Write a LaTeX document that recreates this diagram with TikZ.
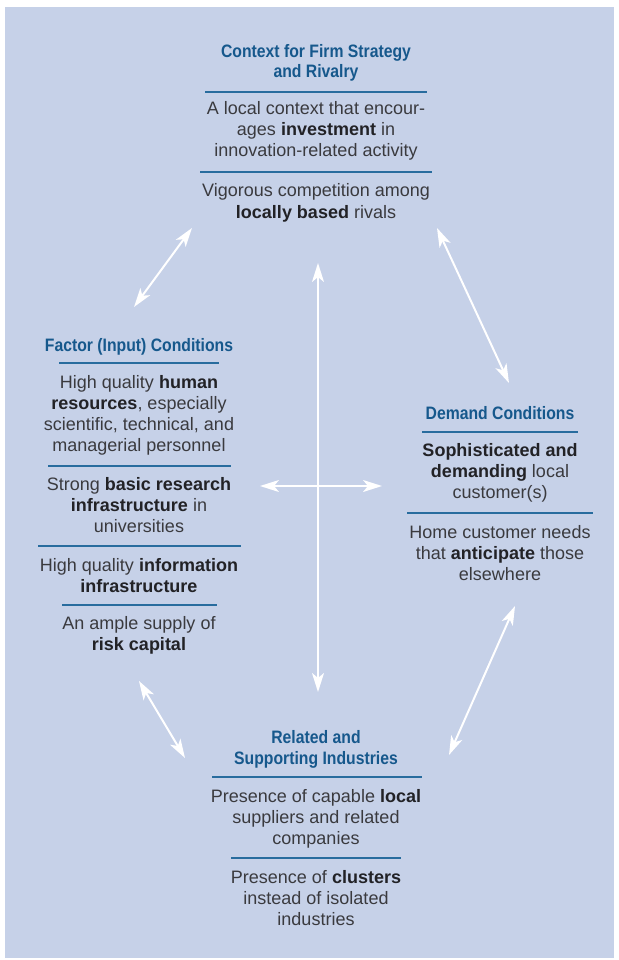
\documentclass[tikz,border=0pt]{standalone}
\usepackage{fontspec}
\setmainfont{Liberation Sans}
\newfontfamily\titlefont[FakeStretch=0.875]{Liberation Sans}
\usetikzlibrary{arrows.meta}

\definecolor{panel}{RGB}{198,209,232}
\definecolor{titleblue}{RGB}{22,88,140}
\definecolor{ruleblue}{RGB}{40,108,158}
\definecolor{bodygray}{RGB}{58,58,62}
\definecolor{keyword}{RGB}{34,34,38}

\newcommand{\kw}[1]{{\color{keyword}\bfseries #1}}

\begin{document}
\begin{tikzpicture}[x=1pt,y=-1pt,
		blockhead/.style={anchor=base,align=center,inner sep=0pt,text=titleblue,
			font=\titlefont\bfseries\fontsize{18}{20.5}\selectfont},
		blocktext/.style={anchor=base,align=center,inner sep=0pt,text=bodygray,
			font=\fontsize{18}{21}\selectfont},
		blockrule/.style={draw=ruleblue,line width=1.4pt},
		twoway/.style={draw=white,line width=2pt,
			{Stealth[length=19pt,width=12pt,inset=5pt]}-{Stealth[length=19pt,width=12pt,inset=5pt]}}]

		\useasboundingbox (0,0) rectangle (618,960);
		\fill[panel] (5,7) rectangle (614,958);

		% context for firm strategy and rivalry (nodes sit on their last line)
		\node[blockhead] (ctxtitle) at (316,78) {Context for Firm Strategy\\and Rivalry};
		\draw[blockrule] (205,92) -- (427,92);
		\node[blocktext] (ctxone) at (316,157) {A local context that encour-\\ages \kw{investment} in\\innovation-related activity};
		\draw[blockrule] (200,172) -- (432,172);
		\node[blocktext] (ctxtwo) at (316,218) {Vigorous competition among\\\kw{locally based} rivals};

		% factor (input) conditions
		\node[blockhead] (factitle) at (139,351) {Factor (Input) Conditions};
		\draw[blockrule] (59,363) -- (219,363);
		\node[blocktext] (facone) at (139,451) {High quality \kw{human}\\\kw{resources}, especially\\scientific, technical, and\\managerial personnel};
		\draw[blockrule] (48,466) -- (231,466);
		\node[blocktext] (factwo) at (139,532) {Strong \kw{basic research}\\\kw{infrastructure} in\\universities};
		\draw[blockrule] (38,546) -- (241,546);
		\node[blocktext] (facthree) at (139,592) {High quality \kw{information}\\\kw{infrastructure}};
		\draw[blockrule] (62,605) -- (217,605);
		\node[blocktext] (facfour) at (139,650) {An ample supply of\\\kw{risk capital}};

		% demand conditions
		\node[blockhead] (demtitle) at (500,419) {Demand Conditions};
		\draw[blockrule] (422,432) -- (578,432);
		\node[blocktext] (demone) at (500,498) {\kw{Sophisticated and}\\\kw{demanding} local\\customer(s)};
		\draw[blockrule] (407,513) -- (593,513);
		\node[blocktext] (demtwo) at (500,580) {Home customer needs\\that \kw{anticipate} those\\elsewhere};

		% related and supporting industries
		\node[blockhead] (reltitle) at (316,764) {Related and\\Supporting Industries};
		\draw[blockrule] (212,777) -- (422,777);
		\node[blocktext] (relone) at (316,844) {Presence of capable \kw{local}\\suppliers and related\\companies};
		\draw[blockrule] (231,858) -- (401,858);
		\node[blocktext] (reltwo) at (316,925) {Presence of \kw{clusters}\\instead of isolated\\industries};

		% arrow ends
		\coordinate (ctxleft) at (192,228);
		\coordinate (facup) at (134,307);
		\coordinate (ctxright) at (437,228);
		\coordinate (demup) at (509,383);
		\coordinate (midtop) at (318,263);
		\coordinate (midbottom) at (318,692);
		\coordinate (midleft) at (260,486);
		\coordinate (midright) at (382,486);
		\coordinate (facdown) at (139,681);
		\coordinate (relleft) at (185,758);
		\coordinate (demdown) at (515,606);
		\coordinate (relright) at (449,755);

		\draw[twoway] (facup) -- (ctxleft);
		\draw[twoway] (ctxright) -- (demup);
		\draw[twoway] (midtop) -- (midbottom);
		\draw[twoway] (midleft) -- (midright);
		\draw[twoway] (facdown) -- (relleft);
		\draw[twoway] (demdown) -- (relright);
	\end{tikzpicture}
\end{document}
